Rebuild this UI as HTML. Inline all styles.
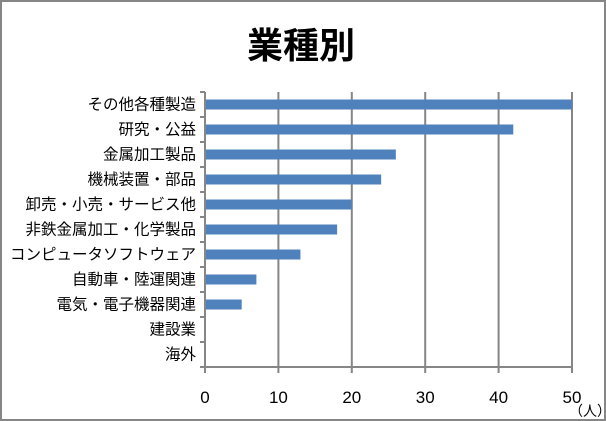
<!DOCTYPE html>
<html><head><meta charset="utf-8"><style>
body{margin:0;background:#fff}
#c{width:606px;height:421px;position:relative;box-sizing:border-box;border:2px solid #868686;background:#fff}
</style></head><body>
<div id="c">
<svg id="s" width="602" height="417" style="position:absolute;left:0;top:0" font-family="'Liberation Sans','Noto Sans CJK JP',sans-serif"></svg>
</div>
<script>
const categories=["その他各種製造","研究・公益","金属加工製品","機械装置・部品","卸売・小売・サービス他","非鉄金属加工・化学製品","コンピュータソフトウェア","自動車・陸運関連","電気・電子機器関連","建設業","海外"];
const values=[50,42,26,24,20,18,13,7,5,0,0];
const ticks=[0,10,20,30,40,50];
const ns="http://www.w3.org/2000/svg";
const s=document.getElementById('s');
const ox=-2,oy=-2;
const X0=205,X1=572,Y0=92,Y1=367,xmax=50;
const x=v=>X0+ox+(v/xmax)*(X1-X0);
const band=(Y1-Y0)/categories.length;
const y=i=>Y0+oy+i*band;
function mk(t,a,txt){const e=document.createElementNS(ns,t);for(const k in a)e.setAttribute(k,a[k]);if(txt!==undefined)e.textContent=txt;s.appendChild(e);return e;}
let t=mk('text',{x:299,y:56,'text-anchor':'middle','font-size':36,'font-weight':'bold',fill:'#000'},'業種別');


ticks.forEach(v=>{
 const g=mk('line',{x1:x(v),x2:x(v),y1:Y0+oy,y2:Y1+oy+6,stroke:'#868686','stroke-width':2});
 
 
 const l=mk('text',{x:x(v),y:Y1+oy+36,'text-anchor':'middle','font-size':17,fill:'#000'},String(v));
 
 
});
const ax=mk('line',{x1:X0+ox-5,x2:X1+ox,y1:Y1+oy,y2:Y1+oy,stroke:'#868686','stroke-width':2});


for(let i=0;i<=categories.length;i++){
 const tk=mk('line',{x1:X0+ox-5,x2:X0+ox,y1:y(i),y2:y(i),stroke:'#868686','stroke-width':2});
 
 
}
categories.forEach((c,i)=>{
 const cy=y(i)+band/2;
 const l=mk('text',{x:X0+ox-9,y:cy+5,'text-anchor':'end','font-size':15.5,fill:'#000'},c);
 
 
 const w=x(values[i])-x(0);
 if(w>0){
  const b=mk('rect',{x:x(0)+1,y:cy-5,width:w-1,height:10,fill:'#4f81bd'});
  
  
 }
});
const u=mk('text',{x:588,y:414,'text-anchor':'middle','font-size':14,fill:'#000'},'（人）');


</script>
</body></html>
